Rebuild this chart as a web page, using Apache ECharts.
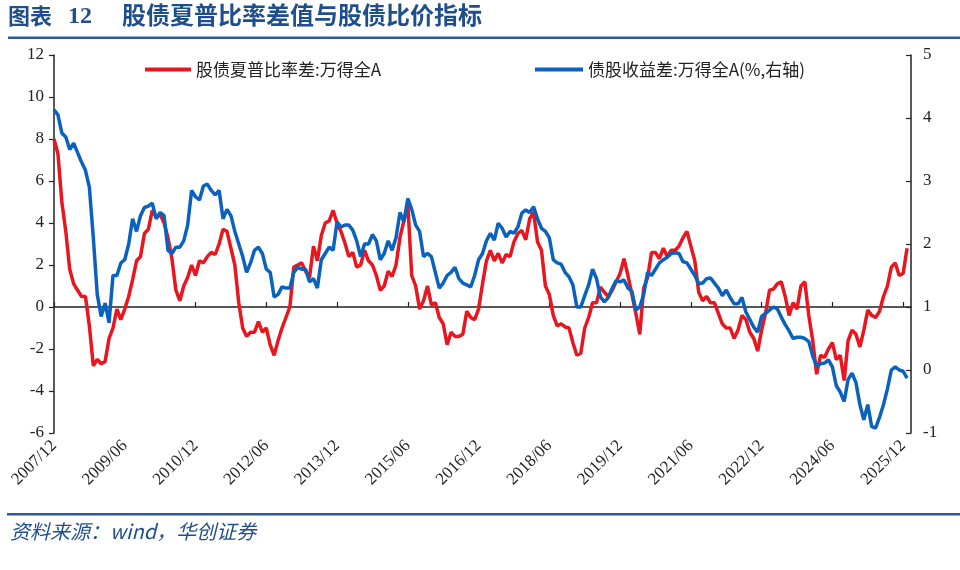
<!DOCTYPE html>
<html>
<head>
<meta charset="utf-8">
<script src="https://cdn.jsdelivr.net/npm/echarts@6/dist/echarts.min.js"></script>
<style>
  html, body { margin: 0; padding: 0; background: #fff; }
  #chart { width: 960px; height: 570px; }
</style>
</head>
<body>
<div id="chart"></div>
<script>
// ---- data ----
var startYear = 2007, startMonth = 12, monthCount = 219;
var categories = [];
for (var i = 0; i < monthCount; i++) {
  var m = startMonth - 1 + i;
  var y = startYear + Math.floor(m / 12);
  var mm = (m % 12) + 1;
  categories.push(y + '/' + (mm < 10 ? '0' + mm : mm));
}

var sharpeDiff = [
  8.0, 7.3, 5.0, 3.6, 1.8, 1.1, 0.8, 0.5, 0.5, -0.9,
  -2.8, -2.5, -2.7, -2.6, -1.5, -1.0, -0.1, -0.6, -0.1, 0.5,
  1.3, 2.2, 2.4, 3.5, 3.7, 4.6, 4.3, 4.4, 4.0, 3.3,
  2.3, 0.8, 0.3, 1.0, 1.4, 2.0, 1.5, 2.2, 2.1, 2.4,
  2.6, 2.5, 3.0, 3.7, 3.6, 2.8, 2.0, 0.2, -1.0, -1.4,
  -1.2, -1.2, -0.7, -1.2, -1.0, -1.8, -2.3, -1.6, -1.0, -0.5,
  0.0, 1.9, 2.0, 2.1, 1.7, 1.4, 2.9, 2.2, 3.4, 4.0,
  4.1, 4.6, 4.0, 3.6, 3.05, 2.4, 2.6, 1.9, 2.0, 2.7,
  2.2, 2.0, 1.5, 0.8, 1.0, 1.7, 1.45, 2.0, 3.3, 4.1,
  4.9, 1.5, 1.0, -0.1, 0.3, 1.0, 0.1, 0.2, -0.5, -0.8,
  -1.8, -1.2, -1.4, -1.4, -1.3, -0.2, -0.5, -0.6, -0.1, 1.1,
  2.2, 2.7, 2.2, 2.55, 2.1, 2.5, 2.4, 3.1, 3.5, 3.65,
  3.2, 4.2, 4.5, 3.1, 2.7, 1.0, 0.6, -0.4, -0.9, -0.8,
  -0.95, -1.0, -1.7, -2.3, -2.2, -1.0, -0.5, 0.2, 0.2, 0.95,
  0.7, 0.5, 0.8, 1.2, 1.6, 2.3, 1.5, 0.6, -0.3, -1.3,
  0.9, 1.4, 2.6, 2.6, 2.3, 2.8, 2.4, 2.7, 2.7, 2.9,
  3.3, 3.6, 2.9, 2.2, 0.7, 0.3, 0.5, 0.2, 0.2, -0.3,
  -0.8, -1.0, -1.0, -1.5, -1.1, -0.4, -0.6, -1.2, -1.5, -2.1,
  -1.1, -0.3, 0.8, 0.85, 1.1, 1.2, 0.5, -0.4, 0.2, -0.1,
  1.0, 1.2, -0.4, -1.6, -3.2, -2.3, -2.4, -2.0, -1.7, -2.5,
  -2.3, -3.5, -1.6, -1.1, -1.3, -1.9, -1.1, -0.15, -0.4, -0.5,
  -0.2, 0.5, 1.0, 1.9, 2.1, 1.5, 1.6, 2.8, null
];

var yieldGap = [
  4.13, 4.05, 3.76, 3.70, 3.50, 3.6, 3.45, 3.30, 3.17, 2.9,
  2.1, 1.2, 0.85, 1.06, 0.75, 1.5, 1.5, 1.7, 1.75, 2.0,
  2.4, 2.2, 2.45, 2.58, 2.6, 2.65, 2.4, 2.5, 2.45, 1.9,
  1.85, 1.95, 1.95, 2.05, 2.3, 2.85, 2.75, 2.7, 2.92, 2.95,
  2.85, 2.78, 2.85, 2.4, 2.55, 2.45, 2.2, 2.0, 1.8, 1.55,
  1.7, 1.9, 1.95, 1.85, 1.6, 1.55, 1.16, 1.2, 1.32, 1.3,
  1.3, 1.55, 1.63, 1.6, 1.6, 1.4, 1.45, 1.3, 1.75, 1.85,
  1.95, 1.9, 2.35, 2.27, 2.3, 2.3, 2.22, 2.05, 1.8, 2.0,
  2.0, 2.15, 2.05, 1.75, 1.85, 2.05, 1.9, 2.1, 2.5, 2.35,
  2.72, 2.55, 2.3, 2.2, 1.8, 1.85, 1.8, 1.55, 1.3, 1.38,
  1.5, 1.55, 1.63, 1.45, 1.38, 1.35, 1.32, 1.5, 1.75, 1.85,
  2.05, 2.17, 2.06, 2.33, 2.25, 2.11, 2.2, 2.17, 2.27, 2.49,
  2.54, 2.5, 2.59, 2.4, 2.25, 2.2, 2.1, 1.75, 1.7, 1.68,
  1.55, 1.48, 1.35, 1.0, 1.0, 1.18, 1.35, 1.6, 1.45, 1.16,
  1.08, 1.15, 1.3, 1.42, 1.4, 1.43, 1.3, 1.25, 0.95, 1.0,
  1.2, 1.55, 1.5, 1.6, 1.7, 1.75, 1.79, 1.85, 1.86, 1.85,
  1.72, 1.7, 1.6, 1.5, 1.37, 1.38, 1.45, 1.46, 1.38, 1.3,
  1.18, 1.27, 1.15, 1.05, 1.05, 1.15, 0.92, 0.8, 0.68, 0.6,
  0.85, 0.9, 0.95, 1.0, 0.97, 0.84, 0.72, 0.62, 0.5, 0.52,
  0.52, 0.5, 0.45, 0.22, 0.06, 0.1, 0.11, 0.16, 0.05, -0.25,
  -0.35, -0.5, -0.15, -0.05, -0.2, -0.55, -0.79, -0.55, -0.9, -0.92,
  -0.75, -0.55, -0.3, 0.0, 0.05, 0.0, -0.02, -0.13, null
];

var seriesNames = ['股债夏普比率差:万得全A', '债股收益差:万得全A(%,右轴)'];
var titleLabel = '图表';
var titleNo = '12';
var titleText = '股债夏普比率差值与股债比价指标';
var sourceText = '资料来源：wind，华创证券';

// ---- chart ----
var chart = echarts.init(document.getElementById('chart'), null, { renderer: 'canvas', width: 960, height: 570 });
var serif = '"Liberation Serif", "Times New Roman", serif';
var cjk = '"Noto Sans CJK SC", sans-serif';
var titleBlue = '#1F4E8C';
var axisColor = '#222';

var option = {
  backgroundColor: '#fff',
  animation: false,
  grid: { left: 54, right: 49, top: 55, bottom: 137, containLabel: false },
  legend: [
    {
      data: [seriesNames[0]], left: 140, top: 56,
      icon: 'rect', itemWidth: 46, itemHeight: 4, itemGap: 8,
      textStyle: { fontFamily: cjk, fontSize: 17, color: '#222' }
    },
    {
      data: [seriesNames[1]], left: 530, top: 56,
      icon: 'rect', itemWidth: 48, itemHeight: 4, itemGap: 8,
      textStyle: { fontFamily: cjk, fontSize: 17, color: '#222' }
    }
  ],
  xAxis: [
    {
      type: 'category', data: categories, boundaryGap: false, position: 'bottom',
      axisLine: { show: false, onZero: false },
      axisTick: { show: false },
      axisLabel: {
        interval: 17, rotate: 45, margin: 10,
        fontFamily: serif, fontSize: 17, color: '#222'
      },
      splitLine: { show: false }
    },
    {
      type: 'category', data: categories, boundaryGap: false, position: 'bottom',
      axisLine: { show: true, onZero: true, onZeroAxisIndex: 0, lineStyle: { color: axisColor, width: 1.5 } },
      axisTick: { show: true, inside: true, interval: 17, length: 5, lineStyle: { color: axisColor, width: 1.2 } },
      axisLabel: { show: false },
      splitLine: { show: false }
    }
  ],
  yAxis: [
    {
      type: 'value', min: -6, max: 12, interval: 2, position: 'left',
      axisLine: { show: true, lineStyle: { color: axisColor, width: 1.5 } },
      axisTick: { show: true, inside: false, length: 5, lineStyle: { color: axisColor, width: 1.2 } },
      axisLabel: { margin: 10, fontFamily: serif, fontSize: 17, color: '#222' },
      splitLine: { show: false }
    },
    {
      type: 'value', min: -1, max: 5, interval: 1, position: 'right',
      axisLine: { show: true, lineStyle: { color: axisColor, width: 1.5 } },
      axisTick: { show: true, inside: true, length: 5, lineStyle: { color: axisColor, width: 1.2 } },
      axisLabel: { margin: 12, fontFamily: serif, fontSize: 17, color: '#222' },
      splitLine: { show: false }
    }
  ],
  series: [
    {
      name: seriesNames[0], type: 'line', data: sharpeDiff,
      xAxisIndex: 0, yAxisIndex: 0,
      showSymbol: false, symbol: 'none',
      lineStyle: { color: '#E8161F', width: 3.5 }, itemStyle: { color: '#E8161F' }
    },
    {
      name: seriesNames[1], type: 'line', data: yieldGap,
      xAxisIndex: 0, yAxisIndex: 1,
      showSymbol: false, symbol: 'none',
      lineStyle: { color: '#0B62BE', width: 3.5 }, itemStyle: { color: '#0B62BE' }
    }
  ],
  graphic: [
    { type: 'text', left: 8, top: 5, style: { text: titleLabel, font: 'bold 22px ' + cjk, fill: titleBlue } },
    { type: 'text', left: 68, top: 5, style: { text: titleNo, font: 'bold 24px ' + serif, fill: titleBlue } },
    { type: 'text', left: 122, top: 3, style: { text: titleText, font: 'bold 24px ' + cjk, fill: titleBlue } },
    { type: 'rect', shape: { x: 8, y: 36.5, width: 952, height: 2.5 }, style: { fill: '#2E5A9A' } },
    { type: 'rect', shape: { x: 7, y: 513, width: 953, height: 2.5 }, style: { fill: '#2E5A9A' } },
    { type: 'text', left: 10, top: 521, style: { text: sourceText, font: 'italic 20px ' + cjk, fill: titleBlue } }
  ]
};
chart.setOption(option);
</script>
</body>
</html>
